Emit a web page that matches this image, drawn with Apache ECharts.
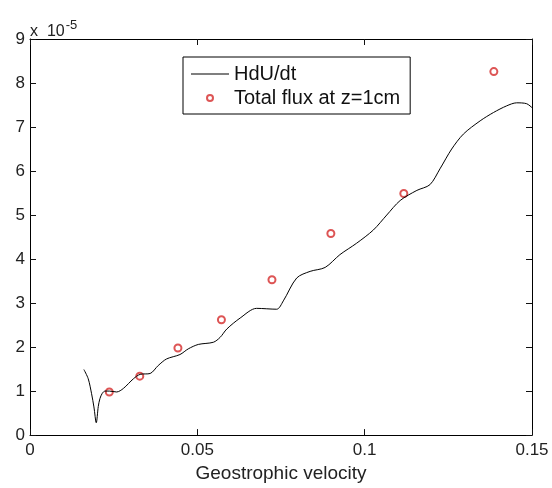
<!DOCTYPE html>
<html>
<head>
<meta charset="utf-8">
<script src="https://cdn.jsdelivr.net/npm/echarts@6/dist/echarts.min.js"></script>
<style>
html,body{margin:0;padding:0;background:#fff;}
#chart{width:552px;height:488px;}
</style>
</head>
<body>
<div id="chart"></div>
<script>
// Values in units of 1e-5
var curveX = [0.0161,0.0174,0.0184,0.0191,0.0198,0.0204,0.0209,0.0216,0.0224,0.0237,0.0259,0.0279,0.0309,0.0329,0.0359,0.0383,0.0408,0.0448,0.0473,0.0503,0.0548,0.0568,0.0588,0.0628,0.0677,0.0737,0.0757,0.0797,0.0837,0.0882,0.0926,0.0976,0.1026,0.1066,0.1106,0.1156,0.1195,0.1225,0.1260,0.1295,0.1345,0.1385,0.1424,0.1454,0.1484,0.1500];
var curveY = [1.49,1.28,0.94,0.64,0.28,0.65,0.83,0.95,1.00,1.00,0.98,1.06,1.28,1.38,1.40,1.58,1.73,1.83,1.96,2.06,2.11,2.22,2.41,2.66,2.88,2.86,3.05,3.57,3.72,3.81,4.10,4.36,4.66,5.00,5.33,5.56,5.69,6.05,6.50,6.84,7.14,7.33,7.48,7.55,7.53,7.44];
var fluxX = [0.0237,0.0328,0.0442,0.0572,0.0723,0.0899,0.1117,0.1386];
var fluxY = [0.98,1.34,1.98,2.62,3.53,4.58,5.49,8.26];
var xTicks = [0, 0.05, 0.1, 0.15];
var yTicks = [0,1,2,3,4,5,6,7,8,9];
var seriesNames = ['HdU/dt', 'Total flux at z=1cm'];
var xLabel = 'Geostrophic velocity';

var FONT = '"Liberation Sans", Arial, sans-serif';
var chart = echarts.init(document.getElementById('chart'));
function zip(a,b){return a.map(function(v,i){return [v,b[i]];});}
function lineOpt(){ return {show:true,onZero:false,lineStyle:{color:'#000',width:1}}; }
function tickOpt(){ return {show:true,inside:true,length:6,lineStyle:{color:'#111',width:1}}; }

chart.setOption({
  backgroundColor:'#fff',
  animation:false,
  title:{
    text:'{x|x  10}{s|-5}',
    left:25, top:11,
    textStyle:{
      fontWeight:'normal',
      rich:{
        x:{fontFamily:FONT,fontSize:16,fontWeight:'normal',color:'#222',padding:[8,0,0,0]},
        s:{fontFamily:FONT,fontSize:13,fontWeight:'normal',color:'#222',padding:[0,0,6,1]}
      }
    }
  },
  grid:{left:30,right:20,top:39,bottom:49},
  legend:{
    left:183, top:57,
    orient:'vertical',
    padding:[7,10,6,8],
    borderColor:'#000', borderWidth:1,
    backgroundColor:'#fff',
    itemGap:4, itemWidth:38, itemHeight:6, itemTextGap:5,
    textStyle:{fontFamily:FONT,fontSize:20,color:'#111'},
    data:[{name:seriesNames[0],icon:'path://M0,0h38v1h-38z'},{name:seriesNames[1]}]
  },
  xAxis:[
    {type:'value',min:0,max:0.15,interval:0.05,position:'bottom',
      name:xLabel,nameLocation:'middle',nameGap:27,
      nameTextStyle:{fontFamily:FONT,fontSize:19,color:'#222'},
      axisLine:lineOpt(), axisTick:tickOpt(), splitLine:{show:false},
      axisLabel:{fontFamily:FONT,fontSize:17,color:'#222',margin:7,formatter:function(v){return String(+v.toFixed(2));}}
    },
    {type:'value',min:0,max:0.15,interval:0.05,position:'top',
      axisLine:lineOpt(), axisTick:tickOpt(), splitLine:{show:false},
      axisLabel:{show:false}}
  ],
  yAxis:[
    {type:'value',min:0,max:9,interval:1,position:'left',
      axisLine:lineOpt(), axisTick:tickOpt(), splitLine:{show:false},
      axisLabel:{fontFamily:FONT,fontSize:17,color:'#222',margin:5}
    },
    {type:'value',min:0,max:9,interval:1,position:'right',
      axisLine:lineOpt(), axisTick:tickOpt(), splitLine:{show:false},
      axisLabel:{show:false}}
  ],
  series:[
    {name:seriesNames[0],type:'line',data:zip(curveX,curveY),symbol:'none',smooth:0.3,
      lineStyle:{color:'#000',width:1},itemStyle:{color:'#000'}},
    {name:seriesNames[1],type:'scatter',data:zip(fluxX,fluxY),symbol:'emptyCircle',symbolSize:7,
      itemStyle:{color:'#d42a2a',borderColor:'#d42a2a',borderWidth:1}}
  ]
});
</script>
</body>
</html>
